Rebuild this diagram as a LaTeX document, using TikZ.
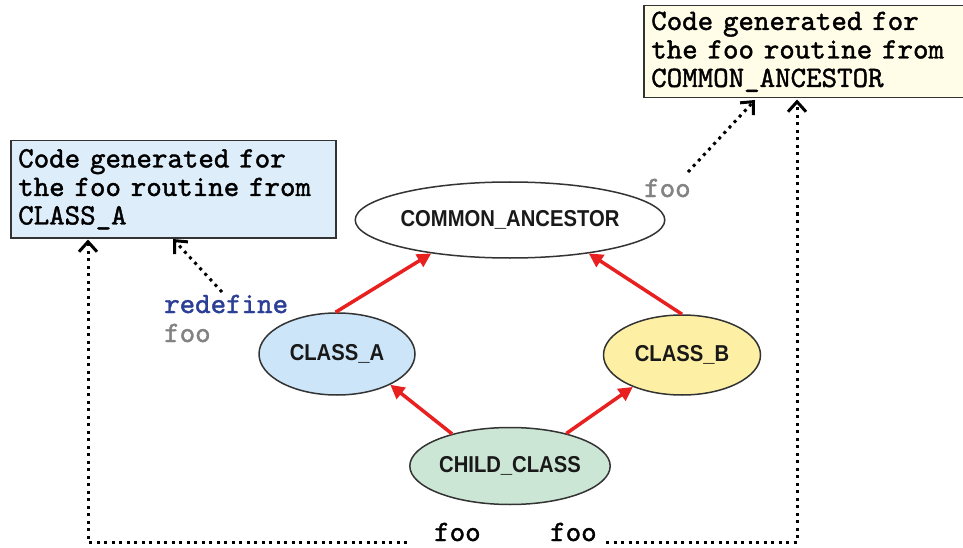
\documentclass[tikz,border=0pt]{standalone}
\usepackage{fontspec}
\newfontfamily\ellf[FakeStretch=0.88]{Liberation Sans Bold}
\newfontfamily\monof{lmmono10-regular.otf}[FakeBold=1.4]
\usetikzlibrary{arrows.meta,shapes.geometric}
\definecolor{boxblue}{RGB}{221,238,250}
\definecolor{boxyellow}{RGB}{255,252,232}
\definecolor{clsblue}{RGB}{205,229,248}
\definecolor{clsyellow}{RGB}{253,240,165}
\definecolor{clsgreen}{RGB}{204,230,214}
\definecolor{arrowred}{RGB}{232,32,31}
\definecolor{defblue}{RGB}{43,63,150}
\definecolor{foogray}{RGB}{130,130,130}
\newcommand\monofont{\monof\fontsize{29.5}{28.5}\selectfont}
\tikzset{
  codebox/.style={draw=black!80, line width=1.5pt, anchor=north west, inner xsep=7.5pt, inner ysep=0pt, align=left, font=\monofont},
  cls/.style={ellipse, draw=black!80, line width=1.5pt, inner sep=0pt, text=black!90, font=\ellf\fontsize{23}{26}\selectfont},
  inh/.style={draw=arrowred, line width=3.5pt, -{Triangle[length=14pt,width=14pt]}},
  dotln/.style={line width=3pt, dash pattern=on 3pt off 4.5pt},
  dotarr/.style={dotln, -{Straight Barb[length=10pt,width=18pt,line width=3pt]}},
  lbl/.style={font=\monofont, inner sep=0pt, anchor=base west},
}
\begin{document}
\begin{tikzpicture}[x=1pt,y=-1pt]
\useasboundingbox (0,0) rectangle (963,548);
\clip (0,0) rectangle (963,548);
\fill[white] (0,0) rectangle (963,548);
% code boxes
\node[codebox, fill=boxblue, text width=310pt, minimum height=97pt] (codeA) at (10,140) {Code generated for\\the foo routine from\\CLASS\_A};
\node[codebox, fill=boxyellow, text width=325pt, minimum height=92pt] (codeB) at (643,5) {Code generated for\\the foo routine from\\COMMON\_ANCESTOR};
% classes
\node[cls, fill=white, minimum width=270pt, minimum height=76pt] (common) at (510,220) {COMMON\_ANCESTOR};
\node[cls, fill=clsblue, minimum width=156pt, minimum height=82pt] (clsA) at (337,354) {CLASS\_A};
\node[cls, fill=clsyellow, minimum width=157pt, minimum height=80pt] (clsB) at (682,355) {CLASS\_B};
\node[cls, fill=clsgreen, minimum width=194pt, minimum height=77pt] (child) at (510,466) {CHILD\_CLASS};
% inheritance arrows
\draw[inh] (clsA.92) -- (common.203);
\draw[inh] (clsB.90) -- (common.337);
\draw[inh] (child.151) -- (clsA.-30);
\draw[inh] (child.30) -- (clsB.213);
% labels
\node[lbl, text=defblue] (redef) at (164,313) {redefine};
\node[lbl, text=foogray] (fooA) at (164,342) {foo};
\node[lbl, text=foogray] (fooB) at (644,197) {foo};
\node[lbl] (foo1) at (434,541) {foo};
\node[lbl] (foo2) at (550,541) {foo};
% dotted arrows
\coordinate (rd0) at (222,292);
\coordinate (rdtip) at (173,239);
\draw[dotarr] (rd0) -- (rdtip);
\coordinate (l0) at (407,542);
\coordinate (lc) at (88,542);
\draw[dotarr] (l0) -- (lc) -- ([yshift=-1pt]lc |- codeA.south);
\coordinate (r0) at (606,542);
\coordinate (rc) at (797,542);
\draw[dotarr] (r0) -- (rc) -- ([yshift=-1pt]rc |- codeB.south);
\coordinate (fb0) at (688,172);
\coordinate (fbtip) at (755,100);
\draw[dotarr] (fb0) -- (fbtip);
\end{tikzpicture}
\end{document}
